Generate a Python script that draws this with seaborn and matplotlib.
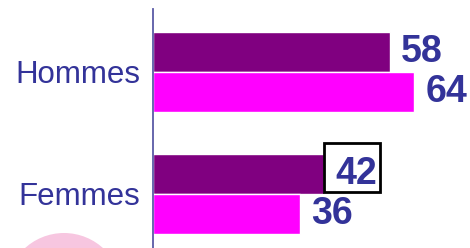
import matplotlib
matplotlib.use("Agg")
import matplotlib.pyplot as plt
import seaborn as sns
import pandas as pd
from matplotlib.patches import Rectangle, Ellipse

# Data
categories = ["Hommes", "Femmes"]
series_names = ["Série 1", "Série 2"]
values_s1 = [58, 42]
values_s2 = [64, 36]

TEXT_COLOR = "#333399"
PALETTE = ["#800080", "#FF00FF"]

df = pd.DataFrame({
    "sexe": categories * 2,
    "serie": [series_names[0]] * 2 + [series_names[1]] * 2,
    "valeur": values_s1 + values_s2,
})

sns.set_style("white")
plt.rcParams["font.family"] = ["Liberation Sans", "DejaVu Sans"]

W, H = 470, 248
fig = plt.figure(figsize=(W / 100, H / 100), dpi=100)
ax = fig.add_axes([153 / W, 0, (W - 153) / W, (H - 9) / H])
ax.set_facecolor("none")

sns.barplot(
    data=df, x="valeur", y="sexe", hue="serie", order=categories,
    hue_order=series_names, palette=PALETTE, saturation=1, orient="h",
    width=0.66, edgecolor="white", linewidth=1, errorbar=None,
    legend=False, ax=ax,
)

ax.set_xlim(0, (W - 153) / 4.08)
ax.set_ylim(1.443, -0.516)
ax.set_xlabel("")
ax.set_ylabel("")
ax.set_xticks([])
ax.tick_params(axis="y", length=0, pad=9.4, labelsize=22.5, labelcolor=TEXT_COLOR)

for side in ["top", "right", "bottom"]:
    ax.spines[side].set_visible(False)
ax.spines["left"].set_color("#5a5aa6")
ax.spines["left"].set_linewidth(1.3)

for container in ax.containers:
    ax.bar_label(container, padding=8, fontsize=27, fontweight="bold",
                 color=TEXT_COLOR)

# highlight box around the Femmes value of the first series
bar = ax.containers[0].patches[1]
bx = bar.get_width()
by = bar.get_y() - 0.09
ax.add_patch(Rectangle((bx, by), 13.7, bar.get_height() + 0.075,
                       fill=False, edgecolor="black", linewidth=2,
                       clip_on=False, zorder=5))

# pink decoration in the lower-left corner
fig.add_artist(Ellipse((64 / W, -43 / H), 116 / W, 116 / H,
                       transform=fig.transFigure, facecolor="#f7c6e0",
                       edgecolor="none", zorder=0))

fig.savefig("out.png", dpi=100)
